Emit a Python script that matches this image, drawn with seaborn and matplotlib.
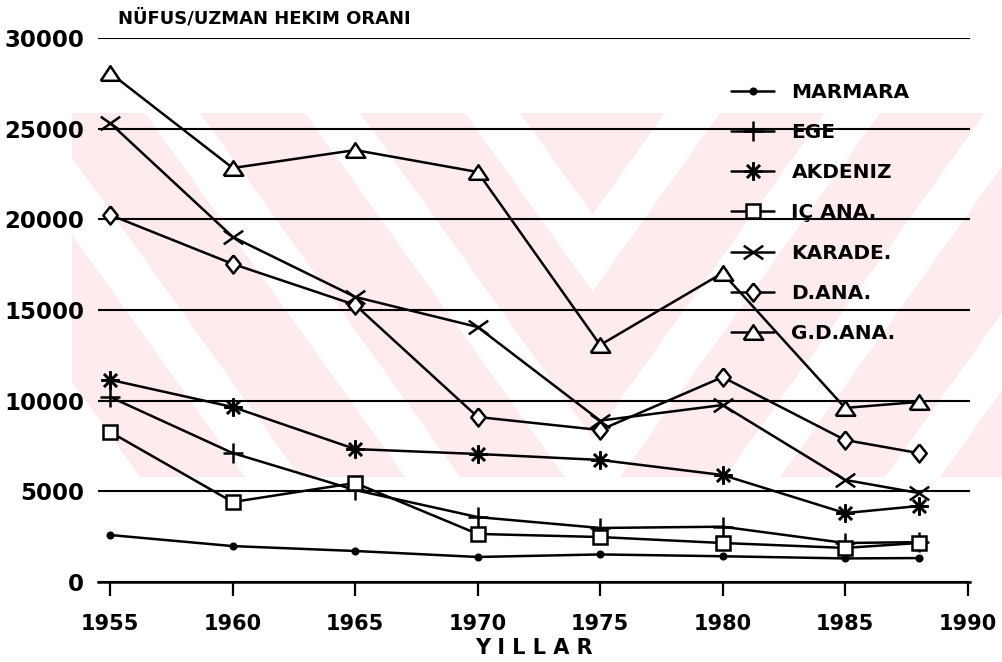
import matplotlib
matplotlib.use("Agg")
import matplotlib.pyplot as plt
import matplotlib.patches as mpatches
from matplotlib.path import Path
import pandas as pd
import seaborn as sns

# Data
years = [1955, 1960, 1965, 1970, 1975, 1980, 1985, 1988]
marmara = [2590, 1980, 1710, 1380, 1520, 1420, 1300, 1320]
ege = [10200, 7110, 5070, 3580, 2980, 3050, 2150, 2200]
akdeniz = [11150, 9650, 7330, 7060, 6730, 5900, 3800, 4190]
ic_ana = [8270, 4410, 5460, 2650, 2480, 2150, 1880, 2150]
karade = [25300, 19030, 15720, 14060, 8900, 9760, 5630, 4910]
d_ana = [20240, 17540, 15280, 9100, 8380, 11300, 7830, 7110]
gd_ana = [28070, 22830, 23820, 22610, 13070, 17040, 9600, 9930]

regions = ["MARMARA", "EGE", "AKDENIZ", "IÇ ANA.", "KARADE.", "D.ANA.", "G.D.ANA."]
values = [marmara, ege, akdeniz, ic_ana, karade, d_ana, gd_ana]
x_ticks = [1955, 1960, 1965, 1970, 1975, 1980, 1985, 1990]
y_ticks = [0, 5000, 10000, 15000, 20000, 25000, 30000]

df = pd.DataFrame({
    "yil": years * len(regions),
    "oran": [v for vals in values for v in vals],
    "bolge": [r for r in regions for _ in years],
})

# marker shapes like the old plotter ones
star8 = (8, 2, 0)
diamond = [(0, 1), (0.8, 0), (0, -1), (-0.8, 0), (0, 1)]
triangle = [(-1, -0.75), (1, -0.75), (0, 0.75), (-1, -0.75)]
wide_x = Path([(-1, -0.7), (1, 0.7), (-1, 0.7), (1, -0.7)],
              [Path.MOVETO, Path.LINETO, Path.MOVETO, Path.LINETO])
styles = {
    "MARMARA": dict(marker="o", markersize=4, markerfacecolor="black"),
    "EGE": dict(marker="+", markersize=15, markerfacecolor="none"),
    "AKDENIZ": dict(marker=star8, markersize=13, markerfacecolor="none"),
    "IÇ ANA.": dict(marker="s", markersize=10.5, markerfacecolor="white"),
    "KARADE.": dict(marker=wide_x, markersize=14, markerfacecolor="none"),
    "D.ANA.": dict(marker=diamond, markersize=13, markerfacecolor="white"),
    "G.D.ANA.": dict(marker=triangle, markersize=14, markerfacecolor="white"),
}

sns.set_style("white")
plt.rcParams["font.family"] = ["DejaVu Sans"]
plt.rcParams.update({"text.color": "black", "xtick.color": "black",
                     "ytick.color": "black", "axes.labelcolor": "black"})

fig = plt.figure(figsize=(10.02, 6.62), dpi=100)
ax = fig.add_axes([98 / 1002, 1 - 582 / 662, 872 / 1002, 544 / 662])

# light pink watermark behind the chart (pixel coords)
top, bot = 662 - 113, 662 - 477
pink = "#fdebee"
left_clip = mpatches.Rectangle((72, bot), 520, top - bot, transform=None)
right_clip = mpatches.Rectangle((592, bot), 410, top - bot, transform=None)
for x0 in [-120, 40, 200, 360, 520]:
    p = mpatches.Polygon([(x0, top), (x0 + 105, top), (x0 + 105 + 260, bot), (x0 + 260, bot)],
                         closed=True, transform=None, facecolor=pink, edgecolor="none", zorder=-9)
    p.set_clip_path(left_clip)
    fig.patches.append(p)
for x0 in [560, 720, 880, 1040, 1200]:
    p = mpatches.Polygon([(x0, top), (x0 + 105, top), (x0 + 105 - 260, bot), (x0 - 260, bot)],
                         closed=True, transform=None, facecolor=pink, edgecolor="none", zorder=-9)
    p.set_clip_path(right_clip)
    fig.patches.append(p)

ax.patch.set_alpha(0)

for reg in regions:
    sub = df[df["bolge"] == reg]
    sns.lineplot(data=sub, x="yil", y="oran", ax=ax, color="black", linewidth=1.8,
                 markeredgecolor="black", markeredgewidth=1.8, label=reg, zorder=3,
                 **styles[reg])

ax.set_xlim(1954.5, 1990.1)
ax.set_ylim(0, 30000)
ax.set_xticks(x_ticks)
ax.set_yticks(y_ticks)
ax.set_xticklabels([str(t) for t in x_ticks], fontsize=15, fontweight="bold")
ax.set_yticklabels([str(t) for t in y_ticks], fontsize=16.5, fontweight="bold")
ax.yaxis.grid(True, color="black", linewidth=1.5)
ax.xaxis.grid(False)
ax.set_axisbelow(True)
for s in ["left", "top", "right"]:
    ax.spines[s].set_visible(False)
ax.spines["bottom"].set_color("black")
ax.spines["bottom"].set_linewidth(1.8)
ax.tick_params(axis="x", direction="out", length=10, width=1.6, pad=13, bottom=True)
ax.tick_params(axis="y", length=0, pad=10)

ax.set_xlabel("Y I L L A R", fontsize=15, fontweight="bold", labelpad=3)
ax.set_ylabel("")
fig.text(118 / 1002, 1 - 18 / 662, "NÜFUS/UZMAN HEKIM ORANI", fontsize=13,
         fontweight="bold", va="center", ha="left")

leg = ax.legend(loc="upper left", bbox_to_anchor=(731 / 1002, 1 - 83 / 662),
                bbox_transform=fig.transFigure, frameon=False, borderpad=0,
                borderaxespad=0, handlelength=2.15, handletextpad=0.85,
                labelspacing=1.05, prop={"size": 14.5, "weight": "bold"})

fig.savefig("out.png", dpi=100)
